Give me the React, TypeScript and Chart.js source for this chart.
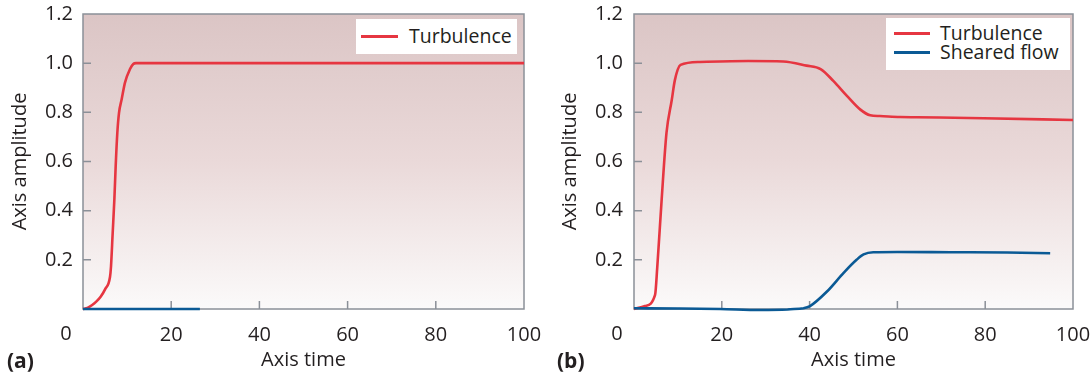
import React, { useEffect, useRef } from 'react';
import { Chart, registerables } from 'chart.js';

Chart.register(...registerables);

// ---- data ----
const xTicks = [0, 20, 40, 60, 80, 100];
const yTicks = [0.2, 0.4, 0.6, 0.8, 1.0, 1.2];

// Panel (a)
const timeTurbA = [0, 1, 2, 3, 4, 5, 6.12, 6.35, 6.73, 7.11, 7.41, 7.78, 8.16, 8.77, 9.52, 10.66, 11.4, 12, 100];
const ampTurbA = [0, 0.004, 0.015, 0.03, 0.05, 0.08, 0.13, 0.173, 0.309, 0.445, 0.581, 0.716, 0.797, 0.853, 0.921, 0.976, 0.997, 1.0, 1.0];
const timeShearA = [0, 26.5];
const ampShearA = [0, 0];

// Panel (b)
const timeTurbB = [0, 2.5, 4.8, 5.3, 6.3, 7.4, 8.6, 9.3, 10.6, 15, 26, 34, 39.3, 42.5, 45.4, 48.5, 51.5, 53.8, 56, 60.6, 64.4, 79.6, 100];
const ampTurbB = [0, 0.012, 0.057, 0.17, 0.445, 0.716, 0.85, 0.93, 0.993, 1.005, 1.009, 1.007, 0.99, 0.976, 0.928, 0.867, 0.812, 0.788, 0.785, 0.781, 0.78, 0.776, 0.769];
const timeShearB = [0, 10, 19.6, 28.7, 35, 38.6, 40.1, 43.9, 47.7, 50.7, 52.3, 54.5, 60, 72, 85, 94.8];
const ampShearB = [0.003, 0.002, 0, -0.004, -0.002, 0.003, 0.012, 0.07, 0.146, 0.2, 0.222, 0.231, 0.232, 0.231, 0.23, 0.227];

const seriesNames = ['Turbulence', 'Sheared flow'];

// ---- style ----
const FONT = '"Open Sans", sans-serif';
const TEXT = '#231f20';
const FRAME = '#8b9098';
const RED = '#e63641';
const BLUE = '#0b5a95';

const zip = (xs: number[], ys: number[]) => xs.map((x, i) => ({ x, y: ys[i] }));

const decorPlugin = {
  id: 'decor',
  beforeDraw(chart: any) {
    const { ctx, chartArea: a } = chart;
    const g = ctx.createLinearGradient(0, a.top, 0, a.bottom);
    g.addColorStop(0, '#dbc5c5');
    g.addColorStop(0.5, '#ead9d9');
    g.addColorStop(1, '#fbfafa');
    ctx.save();
    ctx.fillStyle = g;
    ctx.fillRect(a.left, a.top, a.right - a.left, a.bottom - a.top);
    ctx.restore();
  },
  beforeDatasetsDraw(chart: any) {
    const { ctx, chartArea: a, scales } = chart;
    ctx.save();
    ctx.strokeStyle = FRAME;
    ctx.lineWidth = 1.5;
    ctx.strokeRect(a.left, a.top, a.right - a.left, a.bottom - a.top);
    ctx.beginPath();
    scales.x.ticks.forEach((t: any) => {
      if (t.value > 0 && t.value < 100) {
        const px = scales.x.getPixelForValue(t.value);
        ctx.moveTo(px, a.bottom);
        ctx.lineTo(px, a.bottom - 8);
      }
    });
    scales.y.ticks.forEach((t: any) => {
      if (t.value > 0.01 && t.value < 1.19) {
        const py = scales.y.getPixelForValue(t.value);
        ctx.moveTo(a.left, py);
        ctx.lineTo(a.left + 8, py);
      }
    });
    ctx.stroke();
    ctx.fillStyle = TEXT;
    ctx.font = `20px ${FONT}`;
    ctx.textAlign = 'center';
    ctx.textBaseline = 'middle';
    ctx.fillText('0', scales.x.getPixelForValue(0) - 17, a.bottom + 25);
    ctx.restore();
  },
};

const noPad = (s: any) => {
  s.paddingTop = 0;
  s.paddingBottom = 0;
  s.paddingLeft = 0;
  s.paddingRight = 0;
};

function makeConfig(datasets: any[], yWidth: number, yTitlePad: number, yTickPad: number, rightPad: number) {
  return {
    type: 'line',
    data: { datasets },
    plugins: [decorPlugin],
    options: {
      animation: false,
      responsive: false,
      events: [],
      layout: { padding: { left: 0, right: rightPad, top: 14, bottom: 0 } },
      plugins: { legend: { display: false }, tooltip: { enabled: false } },
      elements: { point: { radius: 0 } },
      scales: {
        x: {
          type: 'linear',
          min: 0,
          max: 100,
          afterBuildTicks: (s: any) => { s.ticks = xTicks.map((v) => ({ value: v })); },
          afterFit: (s: any) => { s.height = 69; noPad(s); },
          grid: { display: false, drawTicks: false },
          border: { display: false },
          ticks: {
            color: TEXT,
            font: { family: FONT, size: 20 },
            padding: 14,
            maxRotation: 0,
            callback: (v: any) => (v === 0 ? '' : String(v)),
          },
          title: {
            display: true,
            text: 'Axis time',
            color: TEXT,
            font: { family: FONT, size: 20 },
            padding: { top: 0, bottom: 6 },
          },
        },
        y: {
          type: 'linear',
          min: 0,
          max: 1.2,
          afterBuildTicks: (s: any) => { s.ticks = [0, ...yTicks].map((v) => ({ value: v })); },
          afterFit: (s: any) => { s.width = yWidth; noPad(s); },
          grid: { display: false, drawTicks: false },
          border: { display: false },
          ticks: {
            color: TEXT,
            font: { family: FONT, size: 20 },
            padding: yTickPad,
            callback: (v: any) => (v === 0 ? '' : Number(v).toFixed(1)),
          },
          title: {
            display: true,
            text: 'Axis amplitude',
            color: TEXT,
            font: { family: FONT, size: 20 },
            padding: { top: yTitlePad, bottom: 0 },
          },
        },
      },
    },
  };
}

function line(label: string, xs: number[], ys: number[], color: string) {
  return {
    label,
    data: zip(xs, ys),
    borderColor: color,
    backgroundColor: color,
    borderWidth: 2.6,
    cubicInterpolationMode: 'monotone',
    clip: false,
    fill: false,
  };
}

function Panel({ config, left }: { config: any; left: number }) {
  const ref = useRef<HTMLCanvasElement>(null);
  useEffect(() => {
    const chart = new Chart(ref.current as HTMLCanvasElement, config);
    return () => chart.destroy();
  }, [config]);
  return (
    <canvas
      ref={ref}
      width={545}
      height={378}
      style={{ position: 'absolute', left, top: 0, width: 545, height: 378 }}
    />
  );
}

const configA = makeConfig(
  [line(seriesNames[1], timeShearA, ampShearA, BLUE), line(seriesNames[0], timeTurbA, ampTurbA, RED)],
  83, 8, 10, 21
);
const configB = makeConfig(
  [line(seriesNames[1], timeShearB, ampShearB, BLUE), line(seriesNames[0], timeTurbB, ampTurbB, RED)],
  89, 13, 11, 17
);

const legendText: React.CSSProperties = {
  position: 'absolute',
  fontFamily: FONT,
  fontSize: 19.5,
  color: TEXT,
  lineHeight: '20px',
  whiteSpace: 'nowrap',
};

function Swatch({ x, y, color, w }: { x: number; y: number; color: string; w: number }) {
  return <div style={{ position: 'absolute', left: x, top: y - 1.5, width: w, height: 3, background: color }} />;
}

export default function App() {
  return (
    <div style={{ position: 'absolute', left: 0, top: 0, width: 1090, height: 378, background: '#fff', overflow: 'hidden' }}>
      <Panel config={configA} left={0} />
      <Panel config={configB} left={545} />

      {/* legend (a) */}
      <div style={{ position: 'absolute', left: 356, top: 19, width: 161, height: 35, background: '#fff' }} />
      <Swatch x={361} y={36} color={RED} w={37} />
      <div style={{ ...legendText, left: 409, top: 26 }}>{seriesNames[0]}</div>

      {/* legend (b) */}
      <div style={{ position: 'absolute', left: 886, top: 18, width: 184, height: 52, background: '#fff' }} />
      <Swatch x={894} y={33} color={RED} w={36} />
      <Swatch x={894} y={52} color={BLUE} w={36} />
      <div style={{ ...legendText, left: 940, top: 23 }}>{seriesNames[0]}</div>
      <div style={{ ...legendText, left: 940, top: 42 }}>{seriesNames[1]}</div>

      <div style={{ position: 'absolute', left: 7, top: 346, fontFamily: FONT, fontWeight: 700, fontSize: 21, color: TEXT, lineHeight: '28px' }}>(a)</div>
      <div style={{ position: 'absolute', left: 557, top: 346, fontFamily: FONT, fontWeight: 700, fontSize: 21, color: TEXT, lineHeight: '28px' }}>(b)</div>
    </div>
  );
}
